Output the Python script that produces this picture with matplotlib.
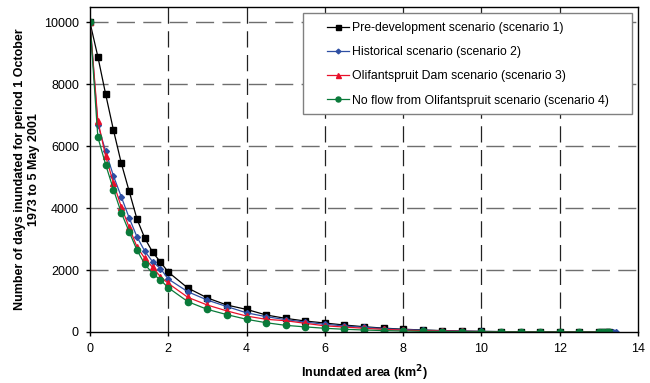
import matplotlib.pyplot as plt
from matplotlib.patches import Rectangle

plt.rcParams['font.family'] = ['Liberation Sans', 'DejaVu Sans']

# inundated area (km2)
area = [0, 0.2, 0.4, 0.6, 0.8, 1.0, 1.2, 1.4, 1.6, 1.8, 2.0, 2.5, 3.0, 3.5, 4.0,
        4.5, 5.0, 5.5, 6.0, 6.5, 7.0, 7.5, 8.0, 8.5, 9.0, 9.5, 10.0, 10.5, 11.0,
        11.5, 12.0, 12.5, 13.0, 13.1, 13.2, 13.25]
area_hist = area + [13.35, 13.45]

# number of days inundated
pre_dev = [10000, 8900, 7680, 6520, 5450, 4550, 3650, 3030, 2580, 2260, 1935, 1420,
           1100, 870, 730, 550, 440, 355, 290, 225, 170, 125, 90, 65, 45, 30, 20,
           13, 8, 5, 3, 2, 1, 1, 0, 0]
historical = [10000, 6700, 5840, 5040, 4365, 3690, 3075, 2610, 2270, 2050, 1710, 1300,
              1030, 820, 620, 495, 400, 320, 250, 195, 150, 110, 80, 57, 40, 27, 18,
              12, 7, 4, 3, 2, 1, 1, 0, 0, 0, 0]
dam = [10000, 6830, 5680, 4810, 4040, 3380, 2750, 2380, 2090, 1785, 1570, 1120,
       870, 680, 515, 410, 365, 280, 200, 160, 120, 85, 60, 42, 30, 20, 13,
       8, 5, 3, 2, 1, 1, 0, 0, 0]
no_flow = [10000, 6300, 5410, 4600, 3850, 3240, 2645, 2190, 1890, 1680, 1430, 980,
           730, 560, 410, 300, 215, 165, 120, 88, 65, 45, 32, 22, 15, 10, 7,
           5, 3, 2, 1, 1, 0, 0, 0, 0]

labels = ["Pre-development scenario (scenario 1)",
          "Historical scenario (scenario 2)",
          "Olifantspruit Dam scenario (scenario 3)",
          "No flow from Olifantspruit scenario (scenario 4)"]

fig = plt.figure(figsize=(6.5, 3.83), dpi=100)
ax = fig.add_axes([90/650, 1-332/383, 548/650, 325/383])

ax.plot(area, pre_dev, color="black", lw=0.9, marker="s", ms=4.5, label=labels[0])
ax.plot(area_hist, historical, color="#2e4fa3", lw=0.9, marker="D", ms=3, label=labels[1])
ax.plot(area, dam, color="#e8102a", lw=0.9, marker="^", ms=4.5, label=labels[2])
ax.plot(area, no_flow, color="#0a7a3a", lw=0.9, marker="o", ms=4.5, label=labels[3])

ax.set_xlim(0, 14)
ax.set_ylim(0, 10500)
ax.set_xticks(range(0, 15, 2))
ax.set_yticks(range(0, 10001, 2000))

for y in range(2000, 10001, 2000):
    ax.axhline(y, color="#6e6e6e", lw=1, dashes=(13, 6), zorder=0)
for x in range(2, 13, 2):
    ax.axvline(x, color="#222222", lw=0.9, dashes=(13, 6), zorder=0)

for s in ax.spines.values():
    s.set_linewidth(1)
ax.tick_params(labelsize=9, length=3, width=1, pad=5)

ax.set_xlabel("Inundated area (km$^\\mathbf{2}$)", fontsize=9, fontweight="bold", labelpad=6)
ax.set_ylabel("Number of days inundated for period 1 October\n1973 to 5 May 2001",
              fontsize=9, fontweight="bold", linespacing=1.2)
ax.yaxis.set_label_coords(-0.092, 0.5)

ax.add_patch(Rectangle((213/548, 218/325), 329/548, 101/325, transform=ax.transAxes,
                       facecolor="white", edgecolor="#808080", lw=1, zorder=5))
leg = ax.legend(loc="upper left", bbox_to_anchor=(237/548, 310/325), frameon=False,
                fontsize=8.8, borderpad=0, borderaxespad=0, handlelength=1.8,
                handletextpad=0.25, labelspacing=1.0, markerscale=0.8)
leg.set_zorder(6)

fig.savefig("out.png", dpi=100)
